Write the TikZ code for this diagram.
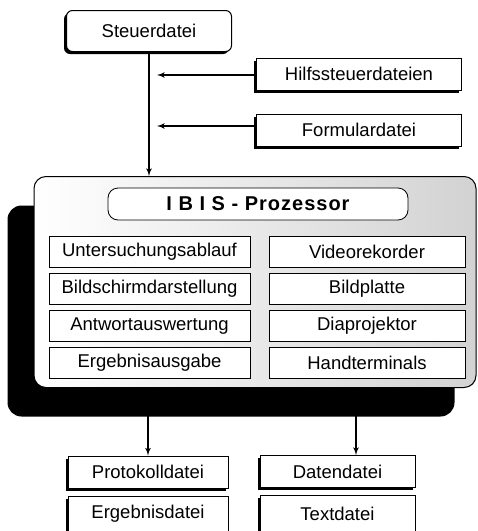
\documentclass[tikz,border=0pt]{standalone}
\usepackage{fontspec}
\setmainfont{Liberation Sans}
\newfontfamily\ibisfont[LetterSpace=5]{Liberation Sans}
\usepackage{tikz}
\usetikzlibrary{arrows,shapes,positioning,calc,shadows}
\tikzstyle{filenode} = [rectangle, draw, line width=1pt, fill=white,
    text centered, minimum height=32pt,
    drop shadow={shadow xshift=-2.5pt, shadow yshift=-2.5pt, fill=black, opacity=1}]
\tikzstyle{ctrlnode} = [filenode, rounded corners=6pt, minimum width=165pt, minimum height=41pt]
\tikzstyle{partnode} = [rectangle, draw, line width=0.8pt, fill=white,
    text centered, minimum height=31pt, node distance=37pt]
\tikzstyle{procnode} = [rectangle, draw, line width=1pt, rounded corners=12pt,
    left color=white, right color=gray!35, minimum width=442pt, minimum height=211pt]
\tikzstyle{backnode} = [rectangle, fill=black, rounded corners=14pt,
    minimum width=447pt, minimum height=211pt]
\tikzstyle{titlenode} = [rectangle, draw, line width=0.8pt, fill=white, rounded corners=10pt,
    minimum width=300pt, minimum height=32pt, font=\ibisfont\bfseries\fontsize{20}{22}\selectfont]
\tikzstyle{line} = [draw, line width=1.6pt, -latex']

\begin{document}
\begin{tikzpicture}[x=1pt, y=-1pt, every node/.style={font=\fontsize{18.5}{21}\selectfont}]
    \useasboundingbox (0,0) rectangle (478,531);
    % Place nodes
    \node [ctrlnode] (steuer) at (149,31) {Steuerdatei};
    \node [filenode, minimum width=205pt] (hilfs) at (359,74) {Hilfssteuerdateien};
    \node [filenode, minimum width=205pt, below of=hilfs, node distance=56pt] (formular) {Formulardatei};

    \node [backnode]  (back) at (231,311) {};
    \node [procnode]  (proc) at (255,282) {};
    \node [titlenode] (ibis) at (258,204) {I B I S - Prozessor};

    \node [partnode, minimum width=201pt] (ablauf) at (149.5,252) {Untersuchungsablauf};
    \node [partnode, minimum width=201pt, below of=ablauf] (bildschirm) {Bildschirmdarstellung};
    \node [partnode, minimum width=201pt, below of=bildschirm] (antwort) {Antwortauswertung};
    \node [partnode, minimum width=201pt, below of=antwort] (ausgabe) {Ergebnisausgabe};

    \node [partnode, minimum width=196pt] (video) at (367,252) {Videorekorder};
    \node [partnode, minimum width=196pt, below of=video] (platte) {Bildplatte};
    \node [partnode, minimum width=196pt, below of=platte] (dia) {Diaprojektor};
    \node [partnode, minimum width=196pt, below of=dia] (hand) {Handterminals};

    \node [filenode, minimum width=160pt] (protokoll) at (148,472) {Protokolldatei};
    \node [filenode, minimum width=160pt, minimum height=36pt, below of=protokoll, node distance=42pt] (ergebnis) {Ergebnisdatei};
    \node [filenode, minimum width=155pt] (daten) at (337.5,471.5) {Datendatei};
    \node [filenode, minimum width=155pt, minimum height=36pt, below of=daten, node distance=42pt] (text) {Textdatei};

    \coordinate (hilfsEnd) at (157,75);
    \coordinate (formEnd)  at (157,126);
    \coordinate (outL)     at (148,416);
    \coordinate (outR)     at (356,416);

    \path [line] (steuer) -- (steuer.south |- proc.north);
    \path [line] (hilfs.west |- hilfsEnd) -- (hilfsEnd);
    \path [line] (formular.west |- formEnd) -- (formEnd);
    \path [line] (outL) -- (outL |- protokoll.north);
    \path [line] (outR) -- (outR |- daten.north);
\end{tikzpicture}
\end{document}
